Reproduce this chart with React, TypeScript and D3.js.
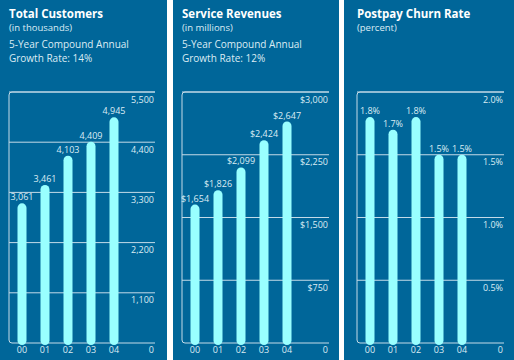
import React from "react";
import * as d3 from "d3";

const years = ["00", "01", "02", "03", "04"];
const customers = [3061, 3461, 4103, 4409, 4945];
const revenues = [1654, 1826, 2099, 2424, 2647];
const churn = [1.8, 1.7, 1.8, 1.5, 1.5];

const customerTicks = [1100, 2200, 3300, 4400, 5500];
const revenueTicks = [750, 1500, 2250, 3000];
const churnTicks = [0.5, 1.0, 1.5, 2.0];

const W = 514;
const H = 360;
const BG = "#006699";
const BAR = "#99ffff";
const LINE = "#c4dbe8";
const TEXT = "#dcecf4";
const FONT = "'Open Sans', 'Noto Sans', sans-serif";

const top = 92;
const bottom = 343;

type PanelProps = {
  x0: number;
  width: number;
  pad: number;
  frameRight: number;
  title: string;
  sub: string;
  note?: string[];
  values: number[];
  ticks: number[];
  max: number;
  fmtValue: (v: number) => string;
  fmtTick: (v: number) => string;
};

function Panel(p: PanelProps) {
  const left = p.x0 + p.pad;
  const right = p.frameRight;

  //X scale for the years
  const xScale = d3
    .scalePoint<string>()
    .domain(years)
    .range([left + 13, left + 105]);

  //Y scale for the values
  const yScale = d3.scaleLinear().domain([0, p.max]).range([bottom, top]);

  const r = 3;
  const frame = `M${right},${top} H${left + r} Q${left},${top} ${left},${top + r} V${bottom - r} Q${left},${bottom} ${left + r},${bottom} H${right}`;
  const bw = 9;

  return (
    <g>
      <rect x={p.x0} y={0} width={p.width} height={H} fill={BG} />
      <text x={left} y={17.5} fill="#ffffff" fontSize={11.5} fontWeight="bold" fontFamily={FONT}>
        {p.title}
      </text>
      <text x={left} y={31} fill={TEXT} fontSize={9.5} fontFamily={FONT}>
        {p.sub}
      </text>
      {(p.note || []).map((t, i) => (
        <text key={i} x={left} y={48 + i * 14} fill={TEXT} fontSize={10} fontFamily={FONT}>
          {t}
        </text>
      ))}

      {/* gridlines and tick labels */}
      {p.ticks.map(t => (
        <g key={t}>
          <line x1={left} x2={right} y1={yScale(t)} y2={yScale(t)} stroke={LINE} strokeWidth={1} />
          <text
            x={right - 1}
            y={yScale(t) + 10.5}
            textAnchor="end"
            fill={TEXT}
            fontSize={9}
            fontFamily={FONT}
          >
            {p.fmtTick(t)}
          </text>
        </g>
      ))}
      <path d={frame} fill="none" stroke={LINE} strokeWidth={1} />
      <text x={right - 1} y={353} textAnchor="end" fill={TEXT} fontSize={9} fontFamily={FONT}>
        0
      </text>

      {/* bars */}
      {p.values.map((v, i) => (
        <rect
          key={years[i]}
          x={(xScale(years[i]) as number) - bw / 2}
          y={yScale(v)}
          width={bw}
          height={bottom + 2 - yScale(v)}
          rx={bw / 2}
          fill={BAR}
        />
      ))}

      {/* value labels */}
      {p.values.map((v, i) => (
        <text
          key={years[i]}
          x={xScale(years[i]) as number}
          y={yScale(v) - 3}
          textAnchor="middle"
          fill={TEXT}
          fontSize={9}
          fontFamily={FONT}
        >
          {p.fmtValue(v)}
        </text>
      ))}

      {/* year labels */}
      {years.map(y => (
        <text
          key={y}
          x={xScale(y) as number}
          y={353}
          textAnchor="middle"
          fill={TEXT}
          fontSize={9}
          fontFamily={FONT}
        >
          {y}
        </text>
      ))}
    </g>
  );
}

export default function App() {
  const pct = (v: number) => d3.format(".1f")(v) + "%";
  return (
    <svg
      width={W}
      height={H}
      style={{ position: "absolute", left: 0, top: 0, background: "#ffffff" }}
    >
      <Panel
        x0={0}
        width={167}
        pad={9}
        frameRight={155}
        title="Total Customers"
        sub="(in thousands)"
        note={["5-Year Compound Annual", "Growth Rate: 14%"]}
        values={customers}
        ticks={customerTicks}
        max={5500}
        fmtValue={d3.format(",")}
        fmtTick={d3.format(",")}
      />
      <Panel
        x0={173}
        width={166}
        pad={9}
        frameRight={329}
        title="Service Revenues"
        sub="(in millions)"
        note={["5-Year Compound Annual", "Growth Rate: 12%"]}
        values={revenues}
        ticks={revenueTicks}
        max={3000}
        fmtValue={d3.format("$,")}
        fmtTick={d3.format("$,")}
      />
      <Panel
        x0={344}
        width={170}
        pad={13}
        frameRight={504}
        title="Postpay Churn Rate"
        sub="(percent)"
        values={churn}
        ticks={churnTicks}
        max={2.0}
        fmtValue={pct}
        fmtTick={pct}
      />
    </svg>
  );
}
